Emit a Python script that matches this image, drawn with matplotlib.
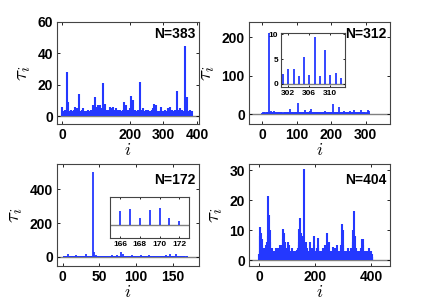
import matplotlib
matplotlib.use('Agg')
import numpy as np
import matplotlib.pyplot as plt

# Data (tau_i per node)
tau_383 = [
    6, 2, 1, 3, 2, 1, 2, 4, 1, 2, 3, 1, 2, 5, 28, 3, 2, 4, 9, 2,
    1, 3, 2, 2, 1, 4, 2, 1, 3, 2, 1, 2, 3, 1, 2, 4, 6, 2, 1, 3,
    2, 1, 3, 5, 2, 1, 2, 3, 1, 14, 2, 3, 1, 2, 1, 3, 2, 1, 2, 4,
    1, 2, 5, 1, 3, 2, 1, 2, 1, 3, 2, 1, 2, 1, 3, 4, 2, 1, 3, 2,
    1, 2, 3, 1, 4, 2, 1, 3, 2, 1, 7, 2, 3, 5, 2, 1, 4, 12, 3, 2,
    6, 2, 3, 1, 4, 7, 2, 3, 6, 2, 1, 3, 7, 2, 4, 3, 1, 2, 5, 3,
    21, 3, 2, 6, 4, 2, 8, 3, 1, 2, 4, 2, 1, 3, 2, 1, 4, 2, 3, 1,
    6, 2, 1, 3, 2, 5, 1, 2, 3, 1, 2, 6, 3, 1, 2, 4, 2, 1, 3, 5,
    2, 1, 3, 2, 4, 1, 2, 1, 3, 2, 1, 4, 2, 1, 3, 2, 1, 2, 3, 1,
    4, 9, 2, 1, 3, 5, 2, 1, 3, 7, 2, 1, 3, 2, 1, 4, 2, 3, 1, 2,
    3, 5, 2, 4, 13, 3, 2, 6, 4, 10, 3, 2, 1, 3, 2, 4, 1, 2, 3, 1,
    2, 1, 3, 2, 1, 4, 2, 1, 3, 22, 2, 1, 3, 4, 2, 1, 3, 5, 2, 1,
    3, 2, 1, 2, 3, 1, 2, 4, 1, 2, 3, 1, 2, 4, 2, 1, 3, 2, 1, 2,
    1, 3, 2, 1, 2, 4, 1, 2, 3, 5, 8, 3, 2, 1, 3, 2, 4, 2, 7, 3,
    2, 1, 3, 2, 1, 2, 3, 1, 2, 1, 3, 2, 4, 6, 2, 1, 3, 2, 1, 2,
    3, 1, 2, 4, 1, 2, 3, 1, 2, 1, 3, 2, 1, 5, 2, 1, 3, 2, 6, 2,
    1, 3, 2, 1, 2, 4, 1, 2, 3, 1, 2, 1, 3, 2, 4, 1, 2, 3, 16, 2,
    1, 3, 2, 4, 1, 2, 3, 1, 5, 2, 1, 3, 2, 1, 2, 4, 1, 3, 2, 1,
    2, 3, 45, 2, 1, 3, 2, 4, 3, 12, 2, 1, 3, 2, 1, 2, 3, 4, 2, 1,
    2, 3, 3,
]

tau_312 = [
    3, 2, 4, 2, 3, 5, 2, 3, 4, 2, 3, 2, 4, 6, 3, 2, 5, 3, 4, 6,
    212, 5, 3, 4, 6, 3, 8, 4, 3, 5, 4, 6, 3, 8, 5, 3, 4, 2, 3, 5,
    3, 4, 2, 3, 5, 3, 2, 4, 3, 6, 2, 3, 4, 2, 3, 5, 2, 4, 3, 2,
    3, 2, 4, 3, 2, 5, 3, 2, 4, 3, 6, 2, 3, 4, 2, 3, 5, 6, 4, 3,
    12, 4, 3, 6, 2, 3, 5, 4, 2, 3, 4, 2, 6, 3, 2, 4, 3, 5, 2, 4,
    4, 6, 28, 5, 3, 4, 2, 3, 5, 2, 4, 3, 2, 6, 3, 4, 2, 3, 5, 4,
    3, 4, 5, 10, 3, 2, 4, 3, 5, 2, 4, 3, 6, 2, 3, 4, 5, 3, 6, 8,
    14, 4, 3, 2, 5, 3, 4, 2, 3, 5, 2, 4, 3, 2, 4, 3, 2, 5, 3, 4,
    2, 3, 4, 3, 6, 2, 4, 3, 2, 3, 5, 2, 4, 3, 2, 4, 3, 5, 2, 3,
    4, 8, 3, 2, 4, 3, 5, 2, 3, 4, 2, 3, 5, 2, 4, 3, 2, 4, 3, 5,
    3, 4, 2, 5, 6, 3, 27, 4, 3, 5, 2, 4, 3, 6, 2, 4, 3, 2, 5, 4,
    3, 5, 18, 4, 3, 2, 4, 3, 5, 2, 4, 3, 2, 4, 3, 5, 2, 4, 8, 3,
    2, 4, 3, 5, 2, 3, 4, 2, 6, 3, 2, 4, 3, 5, 8, 3, 2, 4, 3, 2,
    4, 3, 5, 2, 4, 10, 3, 6, 2, 4, 3, 2, 5, 3, 4, 2, 3, 5, 2, 4,
    3, 2, 4, 3, 5, 2, 4, 10, 3, 2, 4, 3, 2, 5, 3, 4, 2, 3, 5, 2,
    2, 3, 3, 1.5, 5.5, 1.8, 9.5, 1.5, 6.8, 1.8, 2.2, 1.1,
]

tau_172 = [
    3, 5, 2, 4, 6, 3, 18, 4, 2, 5, 3, 6, 2, 4, 3, 5, 2, 10, 3, 4,
    2, 5, 3, 6, 2, 4, 3, 5, 2, 4, 15, 3, 6, 2, 4, 3, 5, 2, 4, 3,
    500, 6, 30, 4, 12, 3, 5, 2, 4, 6, 3, 2, 5, 3, 4, 2, 6, 3, 2, 4,
    3, 5, 2, 4, 3, 6, 10, 3, 2, 5, 4, 3, 2, 12, 4, 3, 5, 2, 6, 30,
    4, 15, 3, 5, 2, 4, 6, 3, 2, 5, 3, 4, 2, 6, 8, 3, 4, 2, 5, 3,
    2, 4, 3, 6, 2, 4, 10, 3, 5, 2, 4, 3, 2, 6, 3, 4, 2, 8, 3, 5,
    2, 4, 3, 5, 2, 3, 4, 2, 5, 6, 3, 2, 4, 3, 5, 2, 4, 3, 2, 5,
    8, 3, 4, 2, 5, 15, 3, 4, 2, 5, 3, 2, 4, 18, 3, 5, 2, 4, 3, 2,
    4, 3, 5, 2, 0.85, 2.05, 2.3, 1.0, 2.15, 2.4, 1.0, 0.5,
]

tau_404 = [
    2, 3, 1, 11, 8, 6, 9, 4, 3, 5, 2, 7, 3, 4, 2, 1, 3, 2, 4, 2,
    1, 3, 2, 4, 5, 3, 2, 4, 3, 6, 21.5, 8, 5, 3, 7, 15, 9, 6, 10, 3,
    2, 1, 3, 2, 4, 1, 2, 3, 1, 2, 3, 1, 2, 1, 2, 3, 1, 2, 4, 3,
    1, 2, 3, 2, 1, 3, 2, 1, 4, 2, 3, 1, 2, 3, 5, 2, 1, 3, 2, 4,
    2, 3, 5, 10.5, 7, 4, 3, 5, 2, 9, 6, 3, 2, 1, 4, 2, 3, 1, 2, 3,
    2, 6, 4, 3, 2, 1, 3, 5, 2, 3, 1, 2, 3, 2, 1, 4, 2, 3, 1, 2,
    1, 2, 3, 1, 3, 2, 1, 2, 3, 1, 2, 1, 2, 3.5, 2, 1, 3, 2, 1, 4,
    3, 5, 10.5, 6, 4, 3, 7, 14, 9, 5, 4, 2, 3, 4, 6, 3, 5, 8, 4, 30.5,
    5, 3, 2, 4, 3, 6, 2, 1, 3, 2, 4, 1, 3, 2, 1, 2, 3, 1, 2, 3,
    6, 3, 2, 1, 3, 2, 4, 2, 4, 3, 1, 2, 4, 3, 5, 8, 4, 2, 3, 1,
    2, 3, 1, 2, 3, 2, 4, 3, 2, 5, 7.5, 4, 2, 1, 3, 2, 1, 2, 3, 1,
    2, 1, 3, 2, 1, 2, 3, 4, 2, 1, 3, 2, 1, 2, 3, 2, 5, 3, 2, 1,
    2, 3, 4, 9, 5, 3, 2, 4, 3, 6, 2, 3, 1, 2, 3, 1, 2, 3, 1, 2,
    1, 2, 3, 4.5, 2, 1, 3, 2, 1, 2, 3, 4, 2, 1, 3, 2, 1, 3, 5, 2,
    1, 2, 3, 1, 2, 1, 2, 3, 1, 2, 3, 4, 2, 5, 4, 12, 6, 3, 5, 10,
    4, 2, 3, 1, 2, 3, 1, 2, 3, 1, 2, 1, 3, 2, 1, 2, 4, 2, 1, 3,
    2, 1, 3, 2, 1, 2, 4, 2, 3, 1, 2, 3, 4, 6, 10, 5, 3, 2, 4, 6,
    16.5, 8, 4, 3, 2, 3, 4, 2, 1, 2, 3, 1, 2, 1, 2, 3, 1, 2, 3, 1,
    2, 1, 3, 2, 4, 3, 2, 7, 4, 3, 2, 5, 7, 3, 2, 1, 2, 3, 1, 2,
    1, 3, 2, 1, 2, 3, 1, 2, 1, 3, 2, 1, 2, 4, 2, 1, 3, 2, 1, 3,
    2, 1, 2, 1,
]

plt.rcParams['mathtext.fontset'] = 'cm'
plt.rcParams['font.family'] = ['Liberation Sans', 'DejaVu Sans']

BLUE = '#2438ff'
SPINE = '#444444'

fig = plt.figure(figsize=(4.36, 3.0), dpi=100)


def style(ax, tick_size=10):
    for s in ax.spines.values():
        s.set_color(SPINE)
        s.set_linewidth(0.8)
    ax.tick_params(direction='in', length=2.5, width=0.6, top=True, right=True,
                   labelsize=tick_size, pad=3, colors='black')
    for t in ax.get_xticklabels() + ax.get_yticklabels():
        t.set_fontweight('bold')
    ax.axhline(0, color='0.5', lw=1.0, zorder=1)


def panel(rect, tau, xlim, ylim, xticks, yticks, label, lw=1.3):
    ax = fig.add_axes(rect)
    x = np.arange(1, len(tau) + 1)
    ax.vlines(x, 0, tau, color=BLUE, lw=lw, zorder=2)
    ax.set_xlim(*xlim)
    ax.set_ylim(*ylim)
    ax.set_xticks(xticks)
    ax.set_yticks(yticks)
    style(ax)
    ax.set_xlabel(r'$i$', fontsize=13, labelpad=0)
    ax.set_ylabel(r'$\tau_i$', fontsize=15, labelpad=3)
    ax.text(0.975, 0.88, label, transform=ax.transAxes, ha='right', va='center',
            fontsize=10, fontweight='bold')
    return ax, x


# top-left
panel([0.1307, 0.5867, 0.3257, 0.34], tau_383, (-15, 405), (-5, 60),
      [0, 200, 300, 400], [0, 20, 40, 60], 'N=383', lw=1.5)

# top-right
ax2, x2 = panel([0.5711, 0.5867, 0.3234, 0.34], tau_312, (-38, 371), (-26, 240),
                [0, 100, 200, 300], [0, 100, 200], 'N=312')
ins2 = fig.add_axes([0.6445, 0.71, 0.1468, 0.18])
ins2.vlines(x2[-12:], 0, tau_312[-12:], color=BLUE, lw=1.3, zorder=2)
ins2.set_xlim(300.6, 312.8)
ins2.set_ylim(-0.65, 10.3)
ins2.set_xticks([302, 306, 310])
ins2.set_yticks([0, 5, 10])
style(ins2, tick_size=6)
ins2.tick_params(pad=2, length=1.5)

# bottom-left
ax3, x3 = panel([0.1307, 0.1133, 0.3257, 0.34], tau_172, (-8, 186), (-55, 550),
                [0, 50, 100, 150], [0, 200, 400], 'N=172')
ax3.texts[0].set_y(0.84)
ins3 = fig.add_axes([0.2523, 0.2067, 0.181, 0.1367])
ins3.vlines(x3[-8:], 0, tau_172[-8:], color=BLUE, lw=1.3, zorder=2)
ins3.set_xlim(164.95, 173)
ins3.set_ylim(-2, 4.1)
ins3.set_xticks([166, 168, 170, 172])
ins3.set_yticks([])
style(ins3, tick_size=6)
ins3.tick_params(pad=2, length=1.5)

# bottom-right
ax4, _ = panel([0.5711, 0.1133, 0.3234, 0.34], tau_404, (-36, 468), (-2, 32),
               [0, 200, 400], [0, 10, 20, 30], 'N=404', lw=1.5)
ax4.texts[0].set_y(0.84)

fig.savefig('out.png', dpi=100)
